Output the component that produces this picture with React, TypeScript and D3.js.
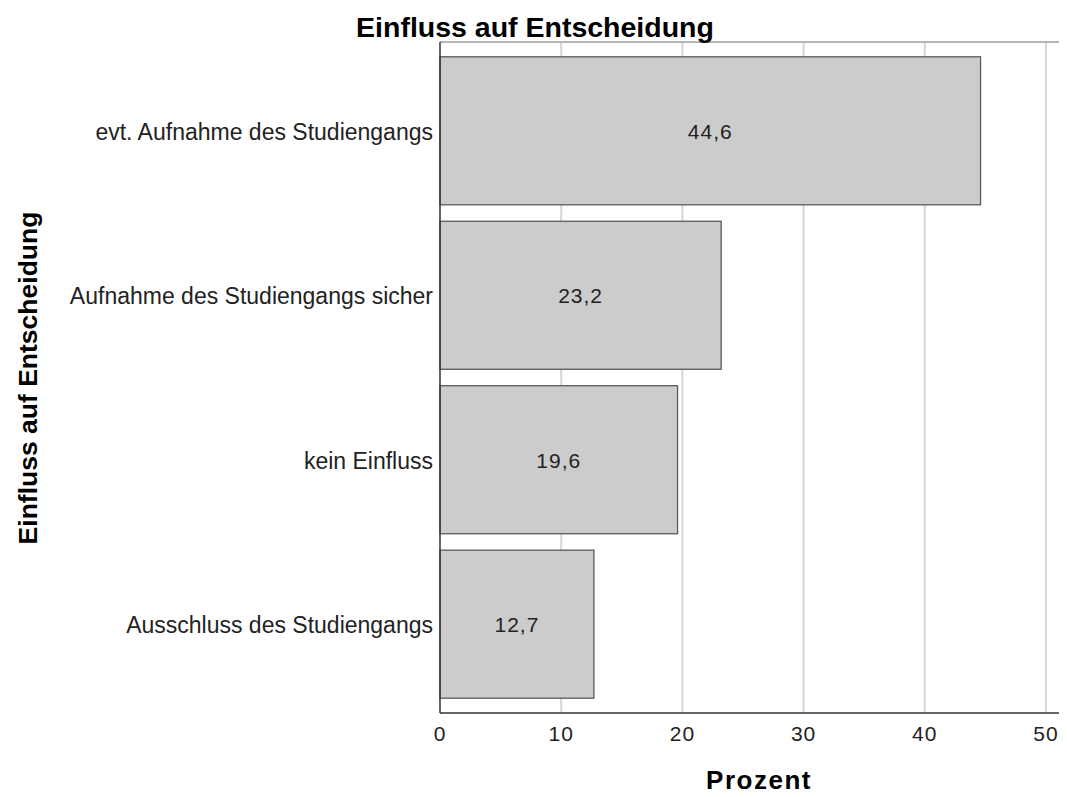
import React, { useRef, useEffect } from 'react';
import * as d3 from 'd3';

const categories = [
  'evt. Aufnahme des Studiengangs',
  'Aufnahme des Studiengangs sicher',
  'kein Einfluss',
  'Ausschluss des Studiengangs',
];
const percents = [44.6, 23.2, 19.6, 12.7];
const xTicks = [0, 10, 20, 30, 40, 50];

const title = 'Einfluss auf Entscheidung';
const yTitle = 'Einfluss auf Entscheidung';
const xTitle = 'Prozent';

const BarChart = () => {
  const ref = useRef<SVGSVGElement | null>(null);

  useEffect(() => {
    if (!ref.current) return;
    const width = 1067;
    const height = 797;
    const left = 440;
    const top = 42;
    const bottom = 713;
    const font = '"Liberation Sans", Arial, sans-serif';

    const svg = d3.select(ref.current);
    svg.selectAll('*').remove();
    svg.attr('width', width).attr('height', height);

    const x = d3.scaleLinear().domain([0, 50]).range([left, 1046]);
    const y = d3.scaleBand<string>()
      .domain(categories)
      .range([top, bottom])
      .paddingInner(0.1)
      .paddingOuter(0.09);

    // gridlines
    svg.append('g')
      .selectAll('line')
      .data(xTicks.slice(1))
      .join('line')
      .attr('x1', d => x(d))
      .attr('x2', d => x(d))
      .attr('y1', top)
      .attr('y2', bottom)
      .attr('stroke', '#d6d6d6')
      .attr('stroke-width', 2);

    // top frame line
    svg.append('line')
      .attr('x1', left).attr('x2', width)
      .attr('y1', top).attr('y2', top)
      .attr('stroke', '#b5b5b5')
      .attr('stroke-width', 2);

    const rows = categories.map((c, i) => ({ c, v: percents[i] }));

    svg.append('g')
      .selectAll('rect')
      .data(rows)
      .join('rect')
      .attr('x', left)
      .attr('y', d => y(d.c)!)
      .attr('width', d => x(d.v) - left)
      .attr('height', y.bandwidth())
      .attr('fill', '#cccccc')
      .attr('stroke', '#5a5a5a')
      .attr('stroke-width', 1.3);

    svg.append('g')
      .selectAll('text')
      .data(rows)
      .join('text')
      .attr('x', d => (left + x(d.v)) / 2)
      .attr('y', d => y(d.c)! + y.bandwidth() / 2 + 8)
      .attr('text-anchor', 'middle')
      .style('font-family', font)
      .style('font-size', '21px')
      .style('letter-spacing', '1px')
      .style('fill', '#222')
      .text(d => d.v.toFixed(1).replace('.', ','));

    // category labels
    svg.append('g')
      .selectAll('text')
      .data(categories)
      .join('text')
      .attr('x', 433)
      .attr('y', d => y(d)! + y.bandwidth() / 2 + 9)
      .attr('text-anchor', 'end')
      .style('font-family', font)
      .style('font-size', '23px')
      .style('fill', '#222')
      .text(d => d);

    // axes lines
    svg.append('line')
      .attr('x1', left).attr('x2', left)
      .attr('y1', top).attr('y2', bottom)
      .attr('stroke', '#333').attr('stroke-width', 1.5);
    svg.append('line')
      .attr('x1', left).attr('x2', width)
      .attr('y1', bottom).attr('y2', bottom)
      .attr('stroke', '#333').attr('stroke-width', 1.5);

    // x tick labels
    svg.append('g')
      .selectAll('text')
      .data(xTicks)
      .join('text')
      .attr('x', d => x(d))
      .attr('y', 741)
      .attr('text-anchor', 'middle')
      .style('font-family', font)
      .style('font-size', '21px')
      .style('letter-spacing', '1px')
      .style('fill', '#222')
      .text(d => d);

    svg.append('text')
      .attr('x', 535)
      .attr('y', 37)
      .attr('text-anchor', 'middle')
      .style('font-family', font)
      .style('font-size', '28.5px')
      .style('font-weight', 'bold')
      .text(title);

    svg.append('text')
      .attr('x', 759)
      .attr('y', 789)
      .attr('text-anchor', 'middle')
      .style('font-family', font)
      .style('font-size', '26px')
      .style('letter-spacing', '1.5px')
      .style('font-weight', 'bold')
      .text(xTitle);

    svg.append('text')
      .attr('transform', `translate(37,378) rotate(-90)`)
      .attr('text-anchor', 'middle')
      .style('font-family', font)
      .style('font-size', '26.5px')
      .style('font-weight', 'bold')
      .text(yTitle);
  }, []);

  return <svg ref={ref} style={{ display: 'block', overflow: 'visible' }} />;
};

export default function App() {
  return (
    <div style={{ margin: -8 }}>
      <BarChart />
    </div>
  );
}
